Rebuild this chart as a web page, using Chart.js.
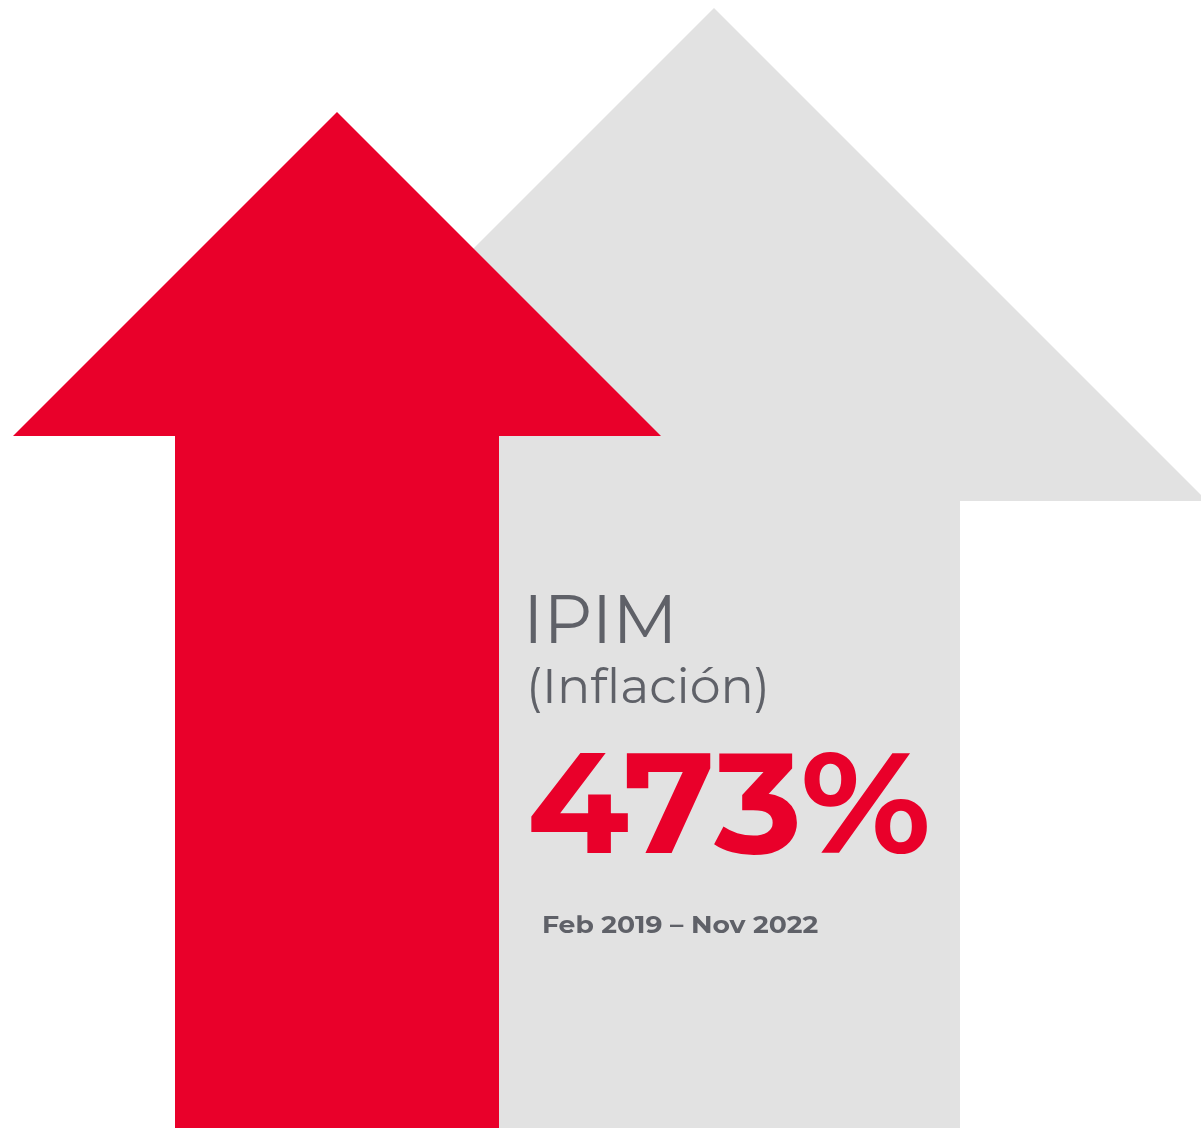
<!DOCTYPE html>
<html lang="es">
<head>
    <meta charset="UTF-8">
    <title>IPIM (Inflación) 473%</title>
    <script src="https://cdn.jsdelivr.net/npm/chart.js@4.4.0/dist/chart.umd.min.js"></script>
    <style>
        body {
            margin: 0;
            padding: 0;
            background: #ffffff;
            overflow: hidden;
        }

        .chart-box {
            position: relative;
            width: 1201px;
            height: 1128px;
        }
    </style>
</head>
<body>
    <div class="chart-box">
        <canvas id="arrowChart"></canvas>
    </div>

    <script>
        // arrow outlines in chart units (x to the right, y downward, 1 unit = 1 px of the frame)
        const redArrowX  = [337, 661, 499, 499, 175, 175, 13, 337];
        const redArrowY  = [112, 436, 436, 1128, 1128, 436, 436, 112];
        const grayArrowX = [714, 1207, 960, 960, 468, 468, 221, 714];
        const grayArrowY = [8, 501, 501, 1128, 1128, 501, 501, 8];

        // text labels: [text, left x, baseline y, cap height, width]
        const labelTexts   = ['IPIM', '(Inflación)', '473%', 'Feb 2019 – Nov 2022'];
        const labelLeft    = [530, 531, 531, 543];
        const labelBase    = [643, 703, 853, 933];
        const labelCap     = [48, 34, 101, 17];
        const labelWidth   = [140, 234, 396, 275];
        const labelWeight  = [400, 400, 700, 700];
        const labelColor   = ['#5f6168', '#5f6168', '#e9002a', '#5f6168'];

        const toPoints = (xs, ys) => xs.map((x, i) => ({ x: x, y: ys[i] }));

        const FONT = 'Montserrat, Inter, "Open Sans", sans-serif';

        // draws one label so its cap height and width match the reference
        function drawFitted(ctx, text, left, base, capH, width, weight, color) {
            ctx.save();
            ctx.font = `${weight} 100px ${FONT}`;
            const cap = ctx.measureText('H').actualBoundingBoxAscent || 72;
            const size = 100 * capH / cap;
            ctx.font = `${weight} ${size}px ${FONT}`;
            const m = ctx.measureText(text);
            const w = m.actualBoundingBoxRight + m.actualBoundingBoxLeft;
            const sx = width / w;
            ctx.translate(left, base);
            ctx.scale(sx, 1);
            ctx.fillStyle = color;
            ctx.textBaseline = 'alphabetic';
            ctx.textAlign = 'left';
            ctx.fillText(text, m.actualBoundingBoxLeft, 0);
            ctx.restore();
        }

        const labelPlugin = {
            id: 'labels',
            afterDatasetsDraw(chart) {
                const ctx = chart.ctx;
                const xs = chart.scales.x;
                const ys = chart.scales.y;
                labelTexts.forEach((t, i) => {
                    const left = xs.getPixelForValue(labelLeft[i]);
                    const base = ys.getPixelForValue(labelBase[i]);
                    const capH = Math.abs(ys.getPixelForValue(labelBase[i] - labelCap[i]) - base);
                    const w = xs.getPixelForValue(labelLeft[i] + labelWidth[i]) - left;
                    drawFitted(ctx, t, left, base, capH, w, labelWeight[i], labelColor[i]);
                });
            }
        };

        const ctx = document.getElementById('arrowChart').getContext('2d');
        new Chart(ctx, {
            type: 'line',
            data: {
                datasets: [{
                    label: 'IPIM',
                    data: toPoints(redArrowX, redArrowY),
                    backgroundColor: '#e9002a',
                    borderColor: '#e9002a',
                    borderWidth: 0,
                    pointRadius: 0,
                    tension: 0,
                    fill: 'shape',
                    order: 0
                }, {
                    label: 'Referencia',
                    data: toPoints(grayArrowX, grayArrowY),
                    backgroundColor: '#e2e2e2',
                    borderColor: '#e2e2e2',
                    borderWidth: 0,
                    pointRadius: 0,
                    tension: 0,
                    fill: 'shape',
                    order: 1
                }]
            },
            options: {
                responsive: true,
                maintainAspectRatio: false,
                animation: false,
                layout: { padding: 0 },
                plugins: {
                    legend: { display: false },
                    tooltip: { enabled: false },
                    filler: { propagate: false }
                },
                scales: {
                    x: { type: 'linear', min: 0, max: 1201, display: false },
                    y: { type: 'linear', min: 0, max: 1128, reverse: true, display: false }
                }
            },
            plugins: [labelPlugin]
        });
    </script>
</body>
</html>
